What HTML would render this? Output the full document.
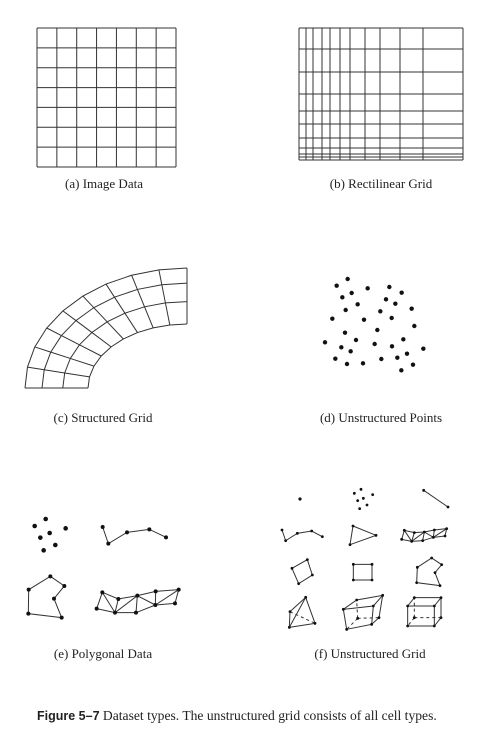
<!DOCTYPE html>
<html><head><meta charset="utf-8">
<style>
html,body{margin:0;padding:0;background:#fff;}
svg{display:block;}
text{font-family:"Liberation Serif",serif;font-size:13px;fill:#222;}
</style></head>
<body>
<svg id="fig" width="490" height="736" xmlns="http://www.w3.org/2000/svg">
<g id="g" stroke="#333" stroke-width="1" fill="none"></g>
<text x="104" y="188" text-anchor="middle">(a) Image Data</text>
<text x="381" y="188" text-anchor="middle">(b) Rectilinear Grid</text>
<text x="103" y="422" text-anchor="middle">(c) Structured Grid</text>
<text x="381" y="422" text-anchor="middle">(d) Unstructured Points</text>
<text x="103" y="658" text-anchor="middle">(e) Polygonal Data</text>
<text x="370" y="658" text-anchor="middle">(f) Unstructured Grid</text>
<text x="37" y="720" style="font-size:13.6px"><tspan style="font-family:'Liberation Sans',sans-serif;font-weight:bold;font-size:12.5px">Figure 5–7</tspan>  Dataset types. The unstructured grid consists of all cell types.</text>
</svg>
<script>
const imgCols = 7, imgRows = 7;
const rectXs = [299,306,313,322,330,340,350,365,380,400,423,463];
const rectYs = [28,49,72,94,111,124,138,148,154,157,160];
const ringT = [0,0.4,0.73,1];
const arcSegments = 9;
const scatterPts = [[1043,87],[1010,107],[1103,115],[1168,111],[1205,128],[1027,142],[1055,129],[1158,148],[1186,161],[1073,163],[1037,180],[1141,184],[1235,176],[997,206],[1092,209],[1175,204],[1243,228],[1132,240],[1035,248],[975,277],[1068,270],[1124,282],[1210,268],[1176,289],[1024,292],[1052,304],[1270,296],[1221,311],[1006,326],[1144,327],[1192,323],[1041,342],[1089,340],[1239,344],[1204,361]];
const polyPts = [[104,228],[137,207],[197,235],[149,249],[121,263],[166,285],[131,301]];
const polyLine = [[308,231],[325,281],[381,247],[448,238],[498,262]];
const polyGon = [[151,379],[193,408],[162,446],[185,503],[85,491],[86,419]];
const stripTop = [[307,427],[355,447],[412,437],[467,424],[536,419]];
const stripBot = [[290,476],[345,488],[408,488],[466,465],[525,460]];
const uVertex = [[900,147]];
const uPolyVertex = [[1063,130],[1083,118],[1118,134],[1073,152],[1090,145],[1101,165],[1079,176]];
const uLine = [[1271,121],[1344,171]];
const uPolyline = [[846,240],[857,272],[892,250],[935,243],[967,260]];
const uTri = [[1059,228],[1128,256],[1050,284]];
const uStripTop = [[1213,241],[1243,248],[1273,246],[1303,240],[1340,236]];
const uStripBot = [[1205,268],[1235,274],[1268,272],[1300,262],[1335,258]];
const uQuad = [[876,355],[922,329],[937,375],[896,401]];
const uPixel = [[1060,343],[1116,343],[1116,390],[1060,390]];
const uPolygon = [[1252,352],[1295,324],[1325,344],[1305,368],[1320,407],[1250,398]];
const tetra = [[137,52],[90,95],[88,142],[165,130]];
const wedge = [[250,88],[290,60],[368,46],[340,78],[260,148],[335,133],[357,113],[293,115]];
const voxFront = [[443,78],[523,78],[523,138],[443,138]];
const voxShift = [20,-25];

const NS='http://www.w3.org/2000/svg';
const G=document.getElementById('g');
function mk(tag,attrs,name){const e=document.createElementNS(NS,tag);for(const k in attrs)e.setAttribute(k,attrs[k]);


G.appendChild(e);return e;}
function line(a,b,name,dash){const e=mk('line',{x1:a[0],y1:a[1],x2:b[0],y2:b[1]},name);if(dash)e.setAttribute('stroke-dasharray','3,3');return e;}
function dot(p,r,name){return mk('circle',{cx:p[0],cy:p[1],r:r,fill:'#111',stroke:'none'},name);}
function poly(pts,closed,name){return mk(closed?'polygon':'polyline',{points:pts.map(p=>p.join(',')).join(' ')},name);}
const z3=(p)=>[p[0]/3,p[1]/3+450];
const z2=(p)=>[p[0]/3,p[1]/3+250];
const z4=(p)=>[p[0]/3+260,p[1]/3+580];

const ax0=37,ax1=176,ay0=28,ay1=167;
for(let i=0;i<=imgCols;i++){const x=ax0+(ax1-ax0)*i/imgCols;line([x,ay0],[x,ay1],'image-grid-vline');}
for(let j=0;j<=imgRows;j++){const y=ay0+(ay1-ay0)*j/imgRows;line([ax0,y],[ax1,y],'image-grid-hline');}
rectXs.forEach(x=>line([x,rectYs[0]],[x,rectYs[rectYs.length-1]],'rectilinear-vline'));
rectYs.forEach(y=>line([rectXs[0],y],[rectXs[rectXs.length-1],y],'rectilinear-hline'));
const cx=187,cy=388,rxi=99,rxo=162,ryi=64,ryo=120;
function sp(t,a){const rx=rxi+(rxo-rxi)*t,ry=ryi+(ryo-ryi)*t;return[cx-rx*Math.cos(a),cy-ry*Math.sin(a)];}
ringT.forEach(t=>{const pts=[];for(let k=0;k<=arcSegments;k++)pts.push(sp(t,Math.PI/2*k/arcSegments));poly(pts,false,'structured-grid-ring');});
for(let k=0;k<=arcSegments;k++){const a=Math.PI/2*k/arcSegments;poly(ringT.map(t=>sp(t,a)),false,'structured-grid-spoke');}
scatterPts.forEach(p=>dot(z2(p),2.2,'unstructured-point'));
polyPts.map(z3).forEach(p=>dot(p,2.3,'poly-vertex'));
const pl=polyLine.map(z3);poly(pl,false,'poly-line');pl.forEach(p=>dot(p,2,'poly-line-vertex'));
const pg=polyGon.map(z3);poly(pg,true,'poly-polygon');pg.forEach(p=>dot(p,2,'poly-polygon-vertex'));
function strip(top,bot,conv,r,name){const T=top.map(conv),B=bot.map(conv);poly(T,false,name);poly(B,false,name);
for(let i=0;i<T.length;i++){line(T[i],B[i],name);if(i<T.length-1)line(i%2?B[i]:T[i],i%2?T[i+1]:B[i+1],name);}
T.concat(B).forEach(p=>dot(p,r,name+'-vertex'));}
strip(stripTop,stripBot,z3,2,'poly-triangle-strip');
uVertex.map(z3).forEach(p=>dot(p,1.6,'ug-vertex'));
uPolyVertex.map(z3).forEach(p=>dot(p,1.4,'ug-poly-vertex'));
const ul=uLine.map(z3);line(ul[0],ul[1],'ug-line');ul.forEach(p=>dot(p,1.4,'ug-line-vertex'));
const upl=uPolyline.map(z3);poly(upl,false,'ug-polyline');upl.forEach(p=>dot(p,1.4,'ug-polyline-vertex'));
const ut=uTri.map(z3);poly(ut,true,'ug-triangle');ut.forEach(p=>dot(p,1.4,'ug-triangle-vertex'));
strip(uStripTop,uStripBot,z3,1.4,'ug-triangle-strip');
[[uQuad,'ug-quad'],[uPixel,'ug-pixel'],[uPolygon,'ug-polygon']].forEach(([a,n])=>{const q=a.map(z3);poly(q,true,n);q.forEach(p=>dot(p,1.4,n+'-vertex'));});
const te=tetra.map(z4);line(te[0],te[1],'ug-tetra');line(te[0],te[2],'ug-tetra');line(te[0],te[3],'ug-tetra');line(te[1],te[2],'ug-tetra');line(te[2],te[3],'ug-tetra');line(te[1],te[3],'ug-tetra',true);
te.forEach(p=>dot(p,1.4,'ug-tetra-vertex'));
const w=wedge.map(z4);
poly([w[0],w[1],w[2],w[3]],true,'ug-hexahedron');poly([w[0],w[4],w[5],w[3]],false,'ug-hexahedron');line(w[5],w[6],'ug-hexahedron');line(w[6],w[2],'ug-hexahedron');
line(w[7],w[6],'ug-hexahedron',true);line(w[7],w[1],'ug-hexahedron',true);line(w[7],w[4],'ug-hexahedron',true);
w.forEach(p=>dot(p,1.4,'ug-hexahedron-vertex'));
const vf=voxFront.map(z4);const vb=vf.map(p=>[p[0]+voxShift[0]/3,p[1]+voxShift[1]/3]);
poly(vf,true,'ug-voxel');line(vf[0],vb[0],'ug-voxel');line(vf[1],vb[1],'ug-voxel');line(vf[2],vb[2],'ug-voxel');
line(vb[0],vb[1],'ug-voxel');line(vb[1],vb[2],'ug-voxel');
line(vb[3],vb[0],'ug-voxel',true);line(vb[3],vb[2],'ug-voxel',true);line(vb[3],vf[3],'ug-voxel',true);
vf.concat(vb).forEach(p=>dot(p,1.4,'ug-voxel-vertex'));
</script>
</body></html>
